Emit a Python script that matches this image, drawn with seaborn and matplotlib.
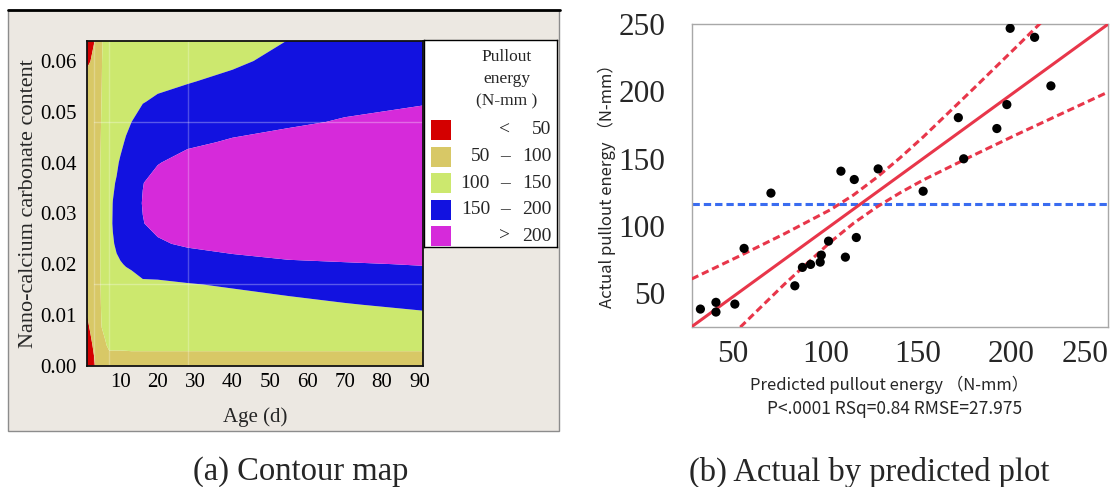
import numpy as np
import matplotlib
matplotlib.use("Agg")
import matplotlib.pyplot as plt
import matplotlib.transforms as mtransforms
from matplotlib.patches import Rectangle
from matplotlib.lines import Line2D
import seaborn as sns

sns.set_style("white")
plt.rcParams['font.family'] = ['Liberation Serif', 'DejaVu Sans']
cjk = ['Noto Sans CJK SC', 'DejaVu Sans']

# ---- (a) contour map data ----
ages = [1, 2, 3, 4, 5, 6, 7, 8, 9, 10, 11.5, 13, 16, 20, 28, 40, 55, 70, 91]
contents = [0.000, 0.002, 0.004, 0.008, 0.012, 0.016, 0.020, 0.024, 0.028,
            0.032, 0.036, 0.040, 0.044, 0.048, 0.052, 0.056, 0.060, 0.064]
# pullout energy (N-mm), one list per age, values along contents
energy_by_age = [
    [30, 34, 38, 46, 52.7, 58.2, 63.6, 69.1, 74.5, 80, 75.5, 70.9, 66.4, 61.9, 57.4, 52.8, 48.3, 43.8],
    [38, 42, 46, 52.9, 58.8, 64.6, 70.5, 76.3, 82.2, 88, 82.6, 77.1, 71.7, 66.2, 60.8, 55.3, 49.9, 44.4],
    [47, 50.4, 53.3, 59.1, 65, 70.8, 76.6, 82.4, 88.2, 94, 88.4, 82.9, 77.3, 71.7, 66.1, 60.5, 54.9, 49.3],
    [62, 66, 70, 76, 80, 84, 88, 91, 93, 94, 93.5, 92.5, 91, 89.5, 88, 86.5, 85, 83],
    [84, 88, 92, 101, 105, 106.9, 106.5, 105.5, 104.7, 104, 104.3, 104, 103, 101.9, 100.6, 99.5, 99, 98.5],
    [86, 92, 98, 106, 112, 117, 121, 124, 126, 127, 126.5, 125, 122, 119, 116, 112, 108, 104],
    [88, 96, 104, 114, 122, 129, 135, 139, 141, 141, 140, 138, 135, 131, 127, 122, 117, 112],
    [89, 96, 104, 116, 126, 134, 142, 148, 151.5, 150.5, 147, 143, 138, 133, 128, 123, 118, 113],
    [89.5, 96, 104, 117, 128, 137, 146, 153.5, 157, 157, 152, 146, 141, 135, 129.5, 124, 118.5, 113.5],
    [90, 96, 104, 118, 130, 140, 148.5, 157, 161, 162, 160, 153, 144, 137, 131, 125, 119, 114],
    [91, 96.5, 104, 118.5, 130.5, 140.5, 151.5, 163, 169, 171, 169, 162, 153, 143.5, 135.5, 128.5, 122, 116.5],
    [92, 97, 104, 119, 131, 141, 154, 168, 176, 179, 177, 170, 161, 150, 140, 132, 125, 119],
    [93, 97, 104, 119, 133, 146, 161, 178, 198.5, 202, 198.9, 188, 176, 163, 148.5, 138, 130, 123],
    [94, 97, 104, 120, 134, 146, 163, 194, 212, 218, 214, 198, 183, 168, 155, 142, 134, 127],
    [95, 97, 104, 120, 134, 148.5, 170, 207, 225, 230, 226, 214, 193, 176, 163, 148, 139, 131],
    [96, 97, 104, 122, 138, 153, 185, 215, 232, 238, 234, 222, 204, 186, 172, 158, 144, 136],
    [97, 97, 104, 124, 141, 162, 194, 222, 238, 244, 241, 230, 214, 194, 180, 170, 160, 150.5],
    [97, 97, 104, 127, 148, 170, 197, 228, 243, 249, 246, 236, 220, 203, 190, 180, 172, 165],
    [97, 97, 104, 133, 157, 178, 202, 232, 247, 253, 250, 241, 228, 213, 197, 188, 181, 175],
]
energy_levels = [0, 50, 100, 150, 200, 300]
level_colors = ['#d40000', '#d8c866', '#cce86e', '#1212e0', '#d62ada']
legend_lo = ['', '50', '100', '150', '']
legend_sym = ['<', '\u2013', '\u2013', '\u2013', '>']
legend_hi = ['50', '100', '150', '200', '200']
crosshair_ages = [3, 7, 28]
crosshair_contents = [0.016, 0.048]

# ---- (b) actual by predicted data ----
predicted_energy = [29.7, 38.1, 38.1, 48.3, 53.3, 67.8, 80.7, 84.8, 89.2, 94.4, 95.0, 98.9, 105.6,
                    108.0, 112.8, 113.9, 125.7, 150.0, 169.0, 171.9, 189.8, 195.2, 197.0, 210.2, 219.0]
actual_energy = [38.1, 43.1, 35.9, 41.8, 83.2, 124.3, 55.4, 69.1, 71.3, 73.0, 78.2, 88.6, 140.6,
                 76.7, 134.4, 91.3, 142.3, 125.7, 180.4, 149.8, 172.3, 190.1, 246.8, 240.1, 204.0]
fit_x = [25, 250]
fit_y = [25, 250]
band_x = [25, 50, 75, 100, 112.5, 125, 137.5, 150, 175, 200, 225, 250]
band_upper = [60.5, 77, 94, 112, 123, 136, 150.5, 166, 199, 232.5, 266.5, 300.5]
band_lower = [-10.5, 23, 56.5, 88, 102, 114, 124.5, 134, 151, 167.5, 183.5, 199.5]
mean_actual = 116.5

W, H = 1120, 487
fig = plt.figure(figsize=(W / 100, H / 100), dpi=100)
fig.patch.set_facecolor('white')

# grey JMP-style panel behind the contour map
fig.add_artist(Rectangle((8 / W, 1 - 431 / H), 550.6 / W, 421 / H, transform=fig.transFigure,
                         facecolor='#ece8e2', edgecolor='#8c8c8c', lw=1, zorder=-5))
fig.add_artist(Line2D([8 / W, 560 / W], [1 - 10 / H] * 2, transform=fig.transFigure,
                      color='black', lw=2, zorder=-4))

# ---- contour map ----
ax = fig.add_axes([86.7 / W, 1 - 365.7 / H, 336.5 / W, 325 / H])
Z = np.array(energy_by_age).T
ax.contourf(ages, contents, Z, levels=energy_levels, colors=level_colors, antialiased=True)
for a in crosshair_ages:
    ax.axvline(a, color='white', alpha=0.25, lw=1)
for c in crosshair_contents:
    ax.axhline(c, xmin=(3 - 1) / 90, color='white', alpha=0.3, lw=1)
ax.set_xlim(1, 91)
ax.set_ylim(0, 0.064)
ax.set_xticks(range(10, 100, 10))
ax.set_yticks([0, 0.01, 0.02, 0.03, 0.04, 0.05, 0.06])
ax.set_yticklabels(['%.2f' % v for v in [0, 0.01, 0.02, 0.03, 0.04, 0.05, 0.06]])
ax.tick_params(axis='both', direction='out', length=3.6, width=1, colors='black', labelsize=15)
ax.tick_params(axis='x', pad=1.5)
ax.tick_params(axis='y', pad=3.5)
for s in ax.spines.values():
    s.set_color('#111111')
    s.set_linewidth(1.3)
ax.set_xlabel('Age (d)', fontsize=15)
ax.xaxis.set_label_coords(0.5, (365.7 - 417) / 325)
ax.xaxis.label.set_va('center')
ax.set_ylabel('Nano-calcium carbonate content', fontsize=16)
ax.yaxis.set_label_coords((28.6 - 86.7) / 336.5, 0.5)
ax.yaxis.label.set_va('center')

# legend box
lax = fig.add_axes([424 / W, 1 - 247.3 / H, 133 / W, 207.3 / H])
lax.set_xlim(0, 133)
lax.set_ylim(207.3, 0)
lax.set_xticks([])
lax.set_yticks([])
lax.set_facecolor('white')
for s in lax.spines.values():
    s.set_color('black')
    s.set_linewidth(1)
for i, line in enumerate(['Pullout', 'energy', '(N-mm )']):
    lax.text(82.7, 16.7 + 22.5 * i, line, ha='center', va='center', fontsize=12.5)
for i, col in enumerate(level_colors):
    y = 90 + 26.6 * i
    lax.add_patch(Rectangle((7, y - 10), 20, 20, facecolor=col, edgecolor='none'))
    lax.text(66, y, legend_lo[i], ha='right', va='center', fontsize=14)
    lax.text(81, y, legend_sym[i], ha='center', va='center', fontsize=14)
    lax.text(127.7, y, legend_hi[i], ha='right', va='center', fontsize=14)

# ---- actual by predicted ----
ax2 = fig.add_axes([691.7 / W, 1 - 326.7 / H, 416.6 / W, 302.7 / H])
red = '#e8364a'
dash = (0, (2.4, 1.3))
ax2.axhline(mean_actual, color='#3a6cf0', lw=2.2, linestyle=dash, zorder=2)
sns.lineplot(x=band_x, y=band_upper, ax=ax2, color=red, lw=2.2, linestyle=dash, zorder=3)
sns.lineplot(x=band_x, y=band_lower, ax=ax2, color=red, lw=2.2, linestyle=dash, zorder=3)
sns.lineplot(x=fit_x, y=fit_y, ax=ax2, color=red, lw=2.2, zorder=3)
sns.scatterplot(x=predicted_energy, y=actual_energy, ax=ax2, color='black', s=44,
                edgecolor='none', zorder=5, legend=False)
ax2.set_xlim(25, 250)
ax2.set_ylim(25, 250)
ax2.set_xticks([50, 100, 150, 200, 250])
ax2.set_yticks([50, 100, 150, 200, 250])
ax2.set_xticks([75, 125, 175, 225], minor=True)
ax2.set_yticks([75, 125, 175, 225], minor=True)
ax2.tick_params(which='both', direction='out', length=4.3, width=1, color='#9a9a9a',
                labelsize=22.5)
ax2.tick_params(axis='x', pad=5)
ax2.tick_params(axis='y', pad=14.5)
for s in ax2.spines.values():
    s.set_color('#a8a8a8')
    s.set_linewidth(1)
shift = mtransforms.ScaledTranslation(-0.05, 0, fig.dpi_scale_trans)
xlabels = ax2.get_xticklabels()
for lbl in xlabels[:-1]:
    lbl.set_transform(lbl.get_transform() + shift)
xlabels[-1].set_ha('right')

fig.text(607 / W, 1 - 182 / H, 'Actual pullout energy \uff08N-mm\uff09', rotation=90,
         ha='center', va='center', fontsize=12, family=cjk)
fig.text(889.5 / W, 1 - 385 / H, 'Predicted pullout energy \uff08N-mm\uff09',
         ha='center', va='center', fontsize=12, family=cjk)
fig.text(894.5 / W, 1 - 409 / H, 'P<.0001 RSq=0.84 RMSE=27.975',
         ha='center', va='center', fontsize=12.5, family=cjk)

# captions
fig.text(301 / W, 1 - 472 / H, '(a) Contour map', ha='center', va='center', fontsize=23.5)
fig.text(869 / W, 1 - 472 / H, '(b) Actual by predicted plot', ha='center', va='center', fontsize=23.5)

fig.savefig('out.png', dpi=100)
